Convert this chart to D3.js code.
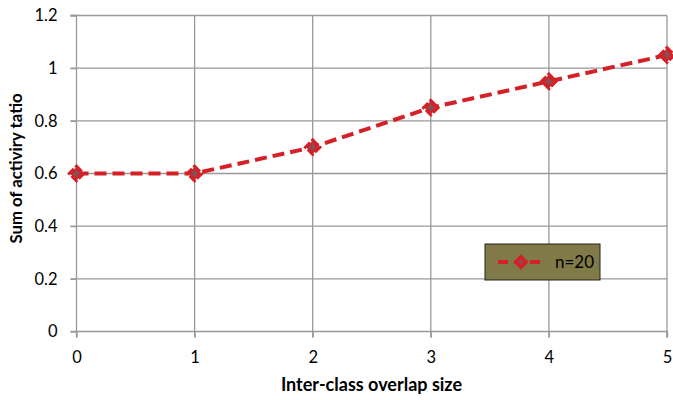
<!DOCTYPE html>
<html>
<head>
<meta charset="utf-8">
<script src="https://cdn.jsdelivr.net/npm/d3@7"></script>
<style>
  html, body { margin: 0; padding: 0; background: #fff; }
  svg { display: block; font-family: Lato, "Open Sans", sans-serif; }
</style>
</head>
<body>
<svg id="chart" width="673" height="400"></svg>
<script>
// Overlap size on x, summed activity ratio on y
const overlapSizes = [0, 1, 2, 3, 4, 5];
const activitySum = [0.6, 0.6, 0.7, 0.85, 0.95, 1.05];
const yTicks = [0, 0.2, 0.4, 0.6, 0.8, 1, 1.2];
const seriesName = "n=20";

const svg = d3.select("#chart");
const margin = { left: 76.5, right: 6, top: 15.5, bottom: 68.5 };
const W = 673, H = 400;

const x = d3.scaleLinear().domain([0, 5]).range([margin.left, W - margin.right]);
const y = d3.scaleLinear().domain([0, 1.2]).range([H - margin.bottom, margin.top]);

const grid = "#999";
const font = "Lato, 'Open Sans', sans-serif";

// gridlines
svg.append("g").selectAll("line").data(yTicks.filter(d => d > 0)).join("line")
  .attr("x1", x(0) - 6).attr("x2", x(5))
  .attr("y1", d => y(d)).attr("y2", d => y(d))
  .attr("stroke", grid).attr("stroke-width", 1.3);
svg.append("g").selectAll("line").data(overlapSizes.filter(d => d > 0)).join("line")
  .attr("x1", d => x(d)).attr("x2", d => x(d))
  .attr("y1", y(1.2)).attr("y2", y(0) + 6)
  .attr("stroke", grid).attr("stroke-width", 1.3);

// axes
const yAxis = d3.axisLeft(y).tickValues(yTicks).tickSize(6).tickPadding(13)
  .tickFormat(d => d3.format("~g")(d));
const gy = svg.append("g").attr("transform", `translate(${x(0)},0)`).call(yAxis);
const xAxis = d3.axisBottom(x).tickValues(overlapSizes).tickSize(6).tickPadding(14)
  .tickFormat(d3.format("d"));
const gx = svg.append("g").attr("transform", `translate(0,${y(0)})`).call(xAxis);
[gx, gy].forEach(g => {
  g.select(".domain").attr("stroke", grid).attr("stroke-width", 1.3);
  g.selectAll(".tick line").attr("stroke", grid).attr("stroke-width", 1.3);
  g.selectAll("text").attr("fill", "#000").style("font-size", "16.5px")
    .style("font-family", font);
});
gy.select(".domain").attr("d", `M-6,${y(0)}H0V${y(1.2)}H-6`);
gx.select(".domain").attr("d", `M${x(0)},6V0H${x(5)}V6`);

// axis titles
svg.append("text").attr("x", 371.5).attr("y", 391)
  .attr("text-anchor", "middle").style("font-size", "18px").style("font-weight", "bold")
  .text("Inter-class overlap size");
svg.append("text").attr("transform", `translate(21.5,168.5) rotate(-90)`)
  .attr("text-anchor", "middle").style("font-size", "16.8px").style("font-weight", "bold")
  .text("Sum of activiry tatio");

// series
const red = "#d52027";
const pts = overlapSizes.map((d, i) => [d, activitySum[i]]);
svg.append("path").datum(pts)
  .attr("d", d3.line().x(d => x(d[0])).y(d => y(d[1])))
  .attr("fill", "none").attr("stroke", red).attr("stroke-width", 4)
  .attr("stroke-dasharray", "12,6");

const diamond = d3.symbol().type(d3.symbolDiamond2).size(110);
svg.append("g").selectAll("path").data(pts).join("path")
  .attr("transform", d => `translate(${x(d[0])},${y(d[1])})`)
  .attr("d", diamond)
  .attr("fill", "#8a4e50").attr("stroke", red).attr("stroke-width", 4)
  .attr("stroke-dasharray", "7,2");

// legend
const lg = svg.append("g").attr("transform", "translate(485,244)");
lg.append("rect").attr("width", 115).attr("height", 36)
  .attr("fill", "#7f7a48").attr("stroke", "#222").attr("stroke-width", 1);
lg.append("line").attr("x1", 13).attr("x2", 58).attr("y1", 18).attr("y2", 18)
  .attr("stroke", red).attr("stroke-width", 4).attr("stroke-dasharray", "10,6");
lg.append("path").attr("transform", "translate(36,18)")
  .attr("d", d3.symbol().type(d3.symbolDiamond2).size(70))
  .attr("fill", "#8a4e50").attr("stroke", red).attr("stroke-width", 3.5);
lg.append("text").attr("x", 70).attr("y", 24).style("font-size", "17px")
  .attr("fill", "#000").text(seriesName);
</script>
</body>
</html>
